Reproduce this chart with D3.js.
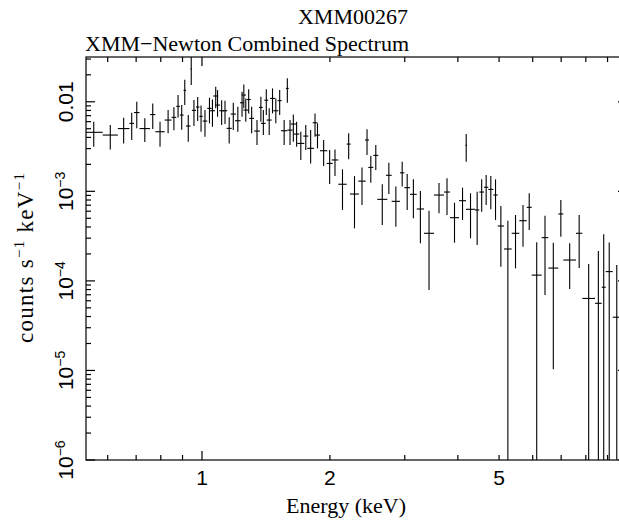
<!DOCTYPE html>
<html>
<head>
<meta charset="utf-8">
<script src="https://cdn.jsdelivr.net/npm/d3@7"></script>
<style>
  html, body { margin: 0; padding: 0; background: #fff; }
  svg { display: block; }
</style>
</head>
<body>
<svg id="chart" width="619" height="522"></svg>
<script>
// Combined XMM-Newton spectrum: energy bins (keV) and count rates (counts/s/keV)
const energyLo = [0.53,0.584,0.634,0.675,0.692,0.713,0.755,0.777,0.817,0.848,0.870,0.887,0.905,0.917,0.940,0.947,0.968,0.986,1.004,1.029,1.044,1.063,1.073,1.098,1.119,1.143,1.168,1.196,1.229,1.240,1.251,1.274,1.292,1.326,1.362,1.377,1.402,1.420,1.446,1.472,1.507,1.534,1.576,1.588,1.617,1.646,1.676,1.731,1.769,1.822,1.845,1.895,1.965,2.019,2.093,2.190,2.230,2.332,2.419,2.462,2.530,2.585,2.710,2.795,2.924,2.993,3.087,3.201,3.330,3.515,3.711,3.833,4.025,4.170,4.181,4.389,4.493,4.609,4.717,4.847,4.964,5.136,5.355,5.580,5.808,5.968,6.300,6.529,6.893,7.083,7.587,7.850,8.409,8.720,8.911,9.256];
const energyHi = [0.584,0.634,0.675,0.692,0.713,0.755,0.777,0.817,0.848,0.870,0.887,0.905,0.917,0.940,0.947,0.968,0.986,1.004,1.029,1.054,1.073,1.092,1.103,1.127,1.147,1.175,1.202,1.233,1.256,1.269,1.285,1.302,1.326,1.369,1.390,1.412,1.432,1.459,1.485,1.512,1.540,1.588,1.600,1.635,1.664,1.694,1.741,1.779,1.835,1.868,1.895,1.972,2.030,2.093,2.190,2.238,2.341,2.428,2.472,2.530,2.599,2.729,2.795,2.924,2.993,3.087,3.201,3.330,3.515,3.711,3.833,4.025,4.181,4.200,4.389,4.493,4.609,4.717,4.847,4.964,5.136,5.355,5.580,5.808,5.968,6.300,6.529,6.893,7.083,7.587,7.850,8.409,8.720,8.911,9.256,9.670];
const rate = [0.00456,0.00425,0.00502,0.00574,0.00758,0.00502,0.00720,0.00463,0.00625,0.00670,0.00889,0.00711,0.0134,0.00536,0.0232,0.00802,0.00873,0.00687,0.00609,0.00844,0.00794,0.0116,0.00919,0.00794,0.00794,0.00505,0.00729,0.00614,0.00975,0.0119,0.00808,0.0106,0.00653,0.00471,0.00866,0.00574,0.0104,0.00625,0.0109,0.00794,0.0103,0.00475,0.0141,0.00483,0.00564,0.00436,0.00343,0.00414,0.00302,0.00583,0.00425,0.00284,0.00205,0.00224,0.00120,0.00337,0.000933,0.00130,0.00374,0.00185,0.00252,0.000814,0.00151,0.000773,0.00161,0.00110,0.000926,0.000635,0.000340,0.000909,0.000982,0.000508,0.000786,0.00326,0.000630,0.000619,0.000982,0.00111,0.00105,0.000909,0.000410,0.000227,0.000340,0.000470,0.000663,0.000116,0.000304,0.000139,0.000559,0.000171,0.000340,0.0000637,0.0000562,0.0000849,0.000127,0.0000393];
const rateLo = [0.00315,0.00294,0.00342,0.00374,0.00505,0.00355,0.00496,0.00315,0.00444,0.00480,0.00666,0.00488,0.00919,0.00358,0.0154,0.00538,0.00609,0.00463,0.00407,0.00574,0.00526,0.00844,0.00680,0.00550,0.00564,0.00343,0.00483,0.00463,0.00680,0.00844,0.00598,0.00742,0.00444,0.00329,0.00598,0.00425,0.00711,0.00425,0.00742,0.00574,0.00711,0.00329,0.00975,0.00329,0.00358,0.00315,0.00224,0.00289,0.00205,0.00407,0.00302,0.00192,0.00121,0.00148,0.000619,0.00228,0.000386,0.000704,0.00254,0.00125,0.00173,0.000420,0.000933,0.000402,0.00113,0.000619,0.000500,0.000263,0.0000792,0.000569,0.000544,0.000267,0.000478,0.00214,0.000299,0.000252,0.000593,0.000704,0.000630,0.000478,0.000144,0,0.000138,0.000241,0.000370,0,0.0000696,0.0000103,0.000311,0.0000813,0.000139,0,0,0,0,0];
const rateHi = [0.00598,0.00550,0.00663,0.00754,0.0100,0.00653,0.00955,0.00598,0.00808,0.00868,0.0119,0.00919,0.0176,0.00711,0.0335,0.0105,0.0113,0.00907,0.00808,0.0111,0.0106,0.0147,0.0135,0.0104,0.0103,0.00670,0.00975,0.00879,0.0129,0.0156,0.0109,0.0138,0.00879,0.00625,0.0114,0.00808,0.0138,0.00844,0.0141,0.0109,0.0135,0.00625,0.0183,0.00625,0.0072,0.00598,0.00463,0.00550,0.00483,0.00742,0.00574,0.00374,0.00289,0.00294,0.00176,0.00444,0.00148,0.00185,0.00492,0.00248,0.00329,0.00120,0.00209,0.00113,0.00214,0.00156,0.00136,0.00101,0.000608,0.00124,0.00140,0.000746,0.00110,0.00436,0.000950,0.000990,0.00136,0.00152,0.00148,0.00136,0.000686,0.000469,0.000544,0.000704,0.000950,0.000270,0.000533,0.000267,0.000800,0.000263,0.000544,0.000154,0.000215,0.000331,0.000268,0.000150];

// Axis ticks
const xLabelTicks = [1, 2, 5];
const xMajorTicks = [1, 10];
const xMinorTicks = [0.6, 0.7, 0.8, 0.9, 2, 3, 4, 5, 6, 7, 8, 9];
const yDecades = [-6, -5, -4, -3, -2];

const plot = { left: 86, top: 57, right: 627, bottom: 460 };
const x = d3.scaleLog().domain([0.5335, 10]).range([plot.left, plot.right]);
const y = d3.scaleLog().domain([1e-6, Math.pow(10, -1.5)]).range([plot.bottom, plot.top]);

const svg = d3.select("#chart");
const SERIF = "'Liberation Serif', 'Times New Roman', serif";
const SANS = "'Liberation Sans', Arial, sans-serif";

svg.append("defs").append("clipPath").attr("id", "plot-clip")
  .append("rect")
  .attr("x", plot.left).attr("y", plot.top)
  .attr("width", plot.right - plot.left).attr("height", plot.bottom - plot.top);

// Data crosses: horizontal bar = energy bin, vertical bar = rate error
const points = rate.map((v, i) => ({
  lo: energyLo[i], hi: energyHi[i], v, vlo: rateLo[i], vhi: rateHi[i]
}));
const yMin = y.domain()[0];
const data = svg.append("g").attr("clip-path", "url(#plot-clip)")
  .attr("stroke", "#000").attr("stroke-width", 1.1).attr("fill", "none");
data.selectAll("line.h").data(points).join("line").attr("class", "h")
  .attr("x1", d => x(d.lo)).attr("x2", d => x(d.hi))
  .attr("y1", d => y(d.v)).attr("y2", d => y(d.v));
data.selectAll("line.v").data(points).join("line").attr("class", "v")
  .attr("x1", d => x(Math.sqrt(d.lo * d.hi))).attr("x2", d => x(Math.sqrt(d.lo * d.hi)))
  .attr("y1", d => y(Math.max(d.vlo, yMin * 0.5)))
  .attr("y2", d => y(d.vhi));

// Frame and ticks
const axes = svg.append("g").attr("stroke", "#000").attr("stroke-width", 1.2).attr("fill", "none");
axes.append("rect")
  .attr("x", plot.left).attr("y", plot.top)
  .attr("width", plot.right - plot.left).attr("height", plot.bottom - plot.top);

const MAJ = 9, MIN = 5;
function xTick(v, len) {
  axes.append("line").attr("x1", x(v)).attr("x2", x(v)).attr("y1", plot.bottom).attr("y2", plot.bottom - len);
  axes.append("line").attr("x1", x(v)).attr("x2", x(v)).attr("y1", plot.top).attr("y2", plot.top + len);
}
function yTick(v, len) {
  axes.append("line").attr("y1", y(v)).attr("y2", y(v)).attr("x1", plot.left).attr("x2", plot.left + len);
  axes.append("line").attr("y1", y(v)).attr("y2", y(v)).attr("x1", plot.right).attr("x2", plot.right - len);
}
xMajorTicks.forEach(v => xTick(v, MAJ));
xMinorTicks.forEach(v => xTick(v, MIN));
yDecades.forEach(e => {
  yTick(Math.pow(10, e), MAJ);
  for (let k = 2; k <= 9; k++) {
    const v = k * Math.pow(10, e);
    if (v < y.domain()[1]) yTick(v, MIN);
  }
});

// Tick labels
svg.append("g").selectAll("text").data(xLabelTicks).join("text")
  .attr("x", d => x(d)).attr("y", 485)
  .attr("text-anchor", "middle")
  .attr("font-family", SANS).attr("font-size", 21)
  .text(d => d);

const yl = svg.append("g");
yDecades.forEach(e => {
  const t = yl.append("text")
    .attr("transform", `translate(73,${y(Math.pow(10, e))}) rotate(-90)`)
    .attr("text-anchor", "middle")
    .attr("font-family", SANS).attr("font-size", 21);
  if (e === -2) {
    t.text("0.01");
  } else {
    t.append("tspan").text("10");
    t.append("tspan").attr("font-size", 14).attr("dy", -8).text("\u2212" + (-e));
  }
});

// Titles
svg.append("text").attr("x", 353).attr("y", 24).attr("text-anchor", "middle")
  .attr("font-family", SERIF).attr("font-size", 22).text("XMM00267");
svg.append("text").attr("x", 85).attr("y", 51)
  .attr("font-family", SERIF).attr("font-size", 22).text("XMM\u2212Newton Combined Spectrum");
svg.append("text").attr("x", 346).attr("y", 513).attr("text-anchor", "middle")
  .attr("font-family", SERIF).attr("font-size", 22).text("Energy (keV)");

const yt = svg.append("text")
  .attr("transform", `translate(33,258) rotate(-90)`)
  .attr("text-anchor", "middle")
  .attr("font-family", SERIF).attr("font-size", 23)
  .attr("textLength", 170).attr("lengthAdjust", "spacing");
yt.append("tspan").text("counts s");
yt.append("tspan").attr("font-size", 15).attr("dy", -9).text("\u22121");
yt.append("tspan").attr("dy", 9).text(" keV");
yt.append("tspan").attr("font-size", 15).attr("dy", -9).text("\u22121");
</script>
</body>
</html>
